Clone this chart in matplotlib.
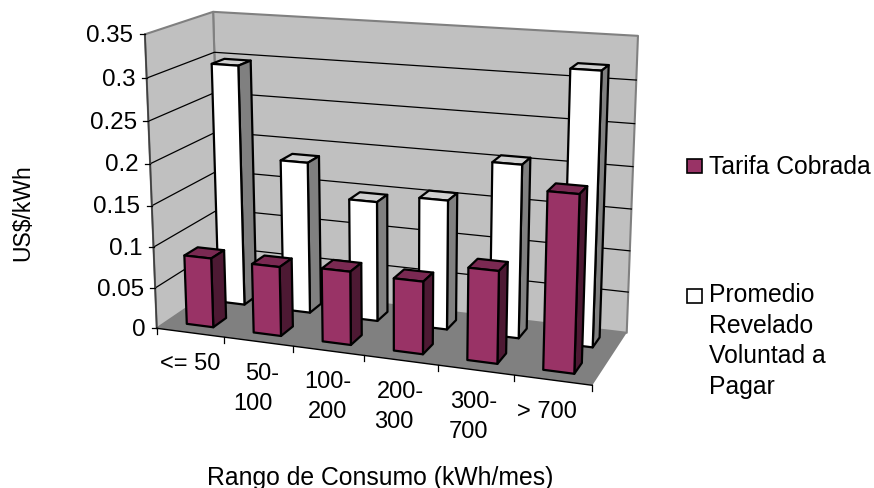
import numpy as np
import matplotlib
matplotlib.use('Agg')
import matplotlib.pyplot as plt

plt.rcParams['font.family'] = ['Liberation Sans', 'DejaVu Sans']

categories = ['<= 50', '50-\n100', '100-\n200', '200-\n300', '300-\n700', '> 700']
tarifa = [0.085, 0.084, 0.088, 0.086, 0.108, 0.203]
promedio = [0.298, 0.187, 0.147, 0.157, 0.207, 0.32]
y_ticks = [0, 0.05, 0.1, 0.15, 0.2, 0.25, 0.3, 0.35]
y_labels = ['0', '0.05', '0.1', '0.15', '0.2', '0.25', '0.3', '0.35']
y_max = 0.35

# box corners on the picture: (x, depth, height) -> pixel
box_from = np.array([[0, 0, 0], [1, 0, 0], [0, 1, 0], [1, 1, 0], [0, 0, 1], [0, 1, 1], [1, 1, 1]], float)
box_to = np.array([[157, 329], [592, 387], [221, 286], [627, 333], [145, 35], [213, 13], [638, 37]], float)


def fit_camera(src, dst):
    A, b = [], []
    for (x, d, z), (u, v) in zip(src, dst):
        A.append([x, d, z, 1, 0, 0, 0, 0, -u * x, -u * d, -u * z])
        A.append([0, 0, 0, 0, x, d, z, 1, -v * x, -v * d, -v * z])
        b += [u, v]
    p = np.linalg.lstsq(np.array(A), np.array(b), rcond=None)[0]
    return np.append(p, 1).reshape(3, 4)


cam = fit_camera(box_from, box_to)


def proj(x, d, value):
    h = cam @ np.array([x, d, value / y_max, 1])
    return h[0] / h[2], h[1] / h[2]


def face(ax, pts, color, lw=1.6, ec='black', z=2):
    xy = [proj(*p) for p in pts]
    ax.fill([q[0] for q in xy], [q[1] for q in xy], fc=color, ec=ec, lw=lw, joinstyle='round', zorder=z)


def bar(ax, k, d0, d1, val, front, top, side):
    n = len(categories)
    x0, x1 = (k + 0.3) / n, (k + 0.7) / n
    face(ax, [(x0, d0, val), (x1, d0, val), (x1, d1, val), (x0, d1, val)], top)
    face(ax, [(x1, d0, 0), (x1, d1, 0), (x1, d1, val), (x1, d0, val)], side)
    face(ax, [(x0, d0, 0), (x1, d0, 0), (x1, d0, val), (x0, d0, val)], front)


fig = plt.figure(figsize=(8.74, 4.89), dpi=100)
ax = fig.add_axes([0, 0, 1, 1])
ax.set_xlim(0, 874)
ax.set_ylim(489, 0)
ax.axis('off')

# walls and floor
face(ax, [(0, 1, 0), (1, 1, 0), (1, 1, y_max), (0, 1, y_max)], '#c0c0c0', 1.5, '#808080', 1)
face(ax, [(0, 0, 0), (0, 1, 0), (0, 1, y_max), (0, 0, y_max)], '#c0c0c0', 1.5, '#808080', 1)

for t in y_ticks[1:-1]:
    pts = [proj(0, 0, t), proj(0, 1, t), proj(1, 1, t)]
    ax.plot([p[0] for p in pts], [p[1] for p in pts], color='black', lw=0.9, zorder=1.5)
face(ax, [(0, 0, 0), (1, 0, 0), (1, 1, 0), (0, 1, 0)], '#808080', 0, '#808080', 1.6)

# axes
a, b = proj(0, 0, 0), proj(0, 0, y_max)
ax.plot([a[0], b[0]], [a[1], b[1]], color='#404040', lw=1.2, zorder=1.7)
a, b = proj(0, 0, 0), proj(1, 0, 0)
ax.plot([a[0], b[0]], [a[1], b[1]], color='black', lw=1, zorder=1.7)
for t, lab in zip(y_ticks, y_labels):
    u, v = proj(0, 0, t)
    ax.plot([u - 5, u], [v, v], color='black', lw=0.9)
    ax.text(u - 11.5, v + 0.5, lab, ha='right', va='center', fontsize=17.4)
for k in range(len(categories) + 1):
    u, v = proj(k / len(categories), 0, 0)
    ax.plot([u, u], [v, v + 6], color='black', lw=0.9)

# bars, back row first
for k, val in enumerate(promedio):
    bar(ax, k, 0.65, 0.85, val, 'white', '#d0d0d0', '#808080')
for k, val in enumerate(tarifa):
    bar(ax, k, 0.15, 0.35, val, '#993366', '#7a2952', '#4d1933')

# the two lines of a label do not line up in the original, so each gets its own spot
label_pos = [[(190, 364.5)], [(262, 374.5), (253, 403.5)], [(328, 381.5), (328, 411.5)],
             [(400, 391.5), (394, 421.5)], [(474, 401.5), (468, 431.5)], [(547, 411.5)]]
for lab, spots in zip(categories, label_pos):
    for line, (u, v) in zip(lab.split('\n'), spots):
        ax.text(u, v, line, ha='center', va='center', fontsize=17)

ax.text(23, 213, 'US$/kWh', rotation=90, ha='center', va='center', fontsize=16.6)
ax.text(380, 477.5, 'Rango de Consumo (kWh/mes)', ha='center', va='center', fontsize=17.8)

# legend
ax.fill([686.5, 702, 702, 686.5], [159.5, 159.5, 174, 174], fc='#993366', ec='black', lw=1.2)
ax.fill([686.5, 702, 702, 686.5], [290, 290, 304, 304], fc='white', ec='black', lw=1.2)
ax.text(709, 167, 'Tarifa Cobrada', ha='left', va='center', fontsize=17.8)
ax.text(709, 341, 'Promedio\nRevelado\nVoluntad a\nPagar', ha='left', va='center', fontsize=17.8, linespacing=1.34)

fig.savefig('out.png', dpi=100)
